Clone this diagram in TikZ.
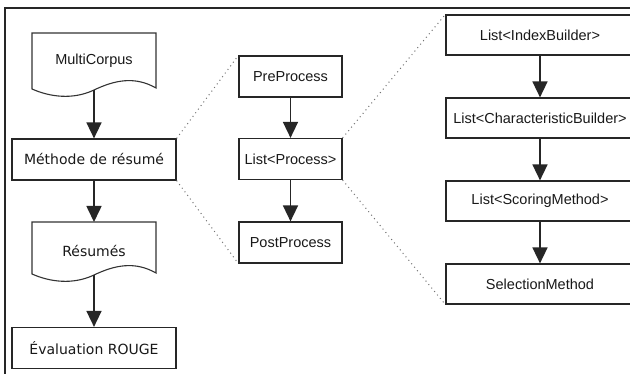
\documentclass[tikz,border=0pt]{standalone}
\usepackage{fontspec}
\setmainfont{Liberation Sans}
\newfontfamily\dejavu{DejaVu Sans}
\usetikzlibrary{arrows.meta}
\tikzset{
  box/.style={draw=black!85, line width=1.2pt, fill=white, rectangle, inner sep=0pt,
    font=\fontsize{14.5}{17}\selectfont, text=black!90},
  lbox/.style={box, minimum width=164pt, minimum height=41pt, font=\dejavu\fontsize{14}{17}\selectfont},
  mbox/.style={box, minimum width=103pt, minimum height=41pt},
  rbox/.style={box, minimum width=188pt, minimum height=40pt},
  doc/.style={draw=black!80, line width=1.1pt, fill=white},
  flow/.style={draw=black!85, line width=1.6pt, -{Triangle[length=16pt,width=15pt]}},
  zoomline/.style={draw=black!55, line width=1pt, dash pattern=on 1pt off 3.5pt},
  frameline/.style={draw=black!85, line width=1.2pt}
}
\begin{document}
\begin{tikzpicture}[x=1pt,y=-1pt]
\useasboundingbox (0,0) rectangle (630,374);
\clip (0,0) rectangle (630,374);
\fill[white] (0,0) rectangle (630,374);
% frame
\draw[frameline] (5,374) -- (5,8) -- (630,8);

% left column: documents
\path[doc] (32,33) -- (156,33) -- (156,88)
  .. controls (135,76) and (115,80) .. (94,90)
  .. controls (73,100) and (50,97) .. (32,89) -- cycle;
\node[font=\fontsize{14.5}{17}\selectfont, text=black!90] (mc) at (94,61) {MultiCorpus};
\coordinate (mcb) at (94,90);

\node[lbox] (meth) at (94,159.5) {Méthode de résumé};

\path[doc] (32,222) -- (156,222) -- (156,273)
  .. controls (135,261) and (115,265) .. (94,275)
  .. controls (73,285) and (50,282) .. (32,274) -- cycle;
\node[font=\dejavu\fontsize{14}{17}\selectfont, text=black!90] (res) at (94,251) {Résumés};
\coordinate (rest) at (94,222);
\coordinate (resb) at (94,275);

\node[lbox] (eval) at (94,348) {Évaluation ROUGE};

% middle column
\node[mbox] (pre) at (290.5,76.5) {PreProcess};
\node[mbox] (lp) at (290.5,159) {List<Process>};
\node[mbox] (post) at (290.5,242.5) {PostProcess};

% right column
\node[rbox] (ib) at (540,35) {List<IndexBuilder>};
\node[rbox] (cb) at (540,118) {List<CharacteristicBuilder>};
\node[rbox] (sm) at (540,201) {List<ScoringMethod>};
\node[rbox] (sel) at (540,284) {SelectionMethod};

% arrows
\draw[flow] (mcb) -- (meth.north);
\draw[flow] (meth.south) -- (rest);
\draw[flow] (resb) -- (eval.north);
\draw[flow] (pre.south) -- (lp.north);
\draw[flow] (lp.south) -- (post.north);
\draw[flow] (ib.south) -- (cb.north);
\draw[flow] (cb.south) -- (sm.north);
\draw[flow] (sm.south) -- (sel.north);

% zoom lines
\draw[zoomline] (meth.north east) -- (pre.north west);
\draw[zoomline] (meth.south east) -- (post.south west);
\draw[zoomline] (lp.north east) -- (ib.north west);
\draw[zoomline] (lp.south east) -- (sel.south west);
\end{tikzpicture}
\end{document}
